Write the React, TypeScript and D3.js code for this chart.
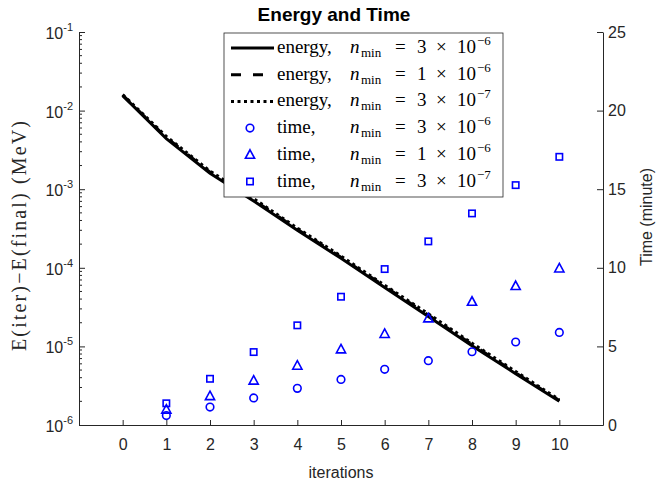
import React, { useRef, useEffect } from 'react'
import * as d3 from 'd3'

// iterations shown on the x axis
const iterations = [0, 1, 2, 3, 4, 5, 6, 7, 8, 9, 10]
// energy difference (MeV), one series per n_min
const energyA = [0.0155, 4.4e-3, 1.6e-3, 7.1e-4, 3.0e-4, 1.32e-4, 5.6e-5, 2.4e-5, 1.02e-5, 4.5e-6, 2.0e-6]
const energyB = [0.0157, 4.55e-3, 1.65e-3, 7.3e-4, 3.1e-4, 1.36e-4, 5.8e-5, 2.5e-5, 1.06e-5, 4.6e-6, 2.05e-6]
const energyC = [0.016, 4.7e-3, 1.7e-3, 7.6e-4, 3.2e-4, 1.41e-4, 6.0e-5, 2.6e-5, 1.1e-5, 4.8e-6, 2.1e-6]
// elapsed time (minute)
const timeIters = [1, 2, 3, 4, 5, 6, 7, 8, 9, 10]
const timeA = [0.6, 1.14, 1.72, 2.33, 2.9, 3.54, 4.09, 4.66, 5.28, 5.89]
const timeB = [0.98, 1.84, 2.82, 3.77, 4.81, 5.79, 6.78, 7.84, 8.84, 9.96]
const timeC = [1.38, 2.94, 4.64, 6.34, 8.16, 9.92, 11.68, 13.46, 15.26, 17.06]

const nminCoefs = ['3', '1', '3']
const nminExps = ['\u22126', '\u22126', '\u22127']
const decadeExps = [-6, -5, -4, -3, -2, -1]
const timeTicks = [0, 5, 10, 15, 20, 25]

export default function App() {
    const chart = useRef<SVGSVGElement>(null)

    useEffect(() => {
        document.body.style.margin = '0'
        const svg = d3.select(chart.current)
        svg.selectAll('*').remove()

        const axisColor = '#262626'
        const blue = '#0000ff'
        const sans = "'Liberation Sans', Arial, sans-serif"
        const serif = "'Liberation Serif', 'Times New Roman', serif"

        const x = d3.scaleLinear().domain([-1, 11]).range([79, 603])
        const yL = d3.scaleLog().domain([1e-6, 1e-1]).range([425, 32])
        const yR = d3.scaleLinear().domain([0, 25]).range([425, 32])

        // x axis
        const gx = svg.append('g')
            .attr('transform', 'translate(0,425)')
            .call(d3.axisBottom(x).tickValues(iterations).tickFormat(d3.format('d')).tickSizeInner(-5).tickSizeOuter(0).tickPadding(14))
        gx.select('.domain').attr('stroke', axisColor)
        gx.selectAll('line').attr('stroke', axisColor)
        gx.selectAll('text').attr('font-family', sans).attr('font-size', 16).attr('fill', axisColor)

        // left log axis
        const minors: number[] = []
        decadeExps.slice(0, 5).forEach((e) => {
            for (let k = 2; k <= 9; k++) minors.push(k * Math.pow(10, e))
        })
        const gl = svg.append('g')
            .attr('transform', 'translate(79,0)')
            .call(d3.axisLeft(yL).tickValues(decadeExps.map((e) => Math.pow(10, e))).tickFormat(() => '').tickSizeInner(-6).tickSizeOuter(0))
        gl.select('.domain').attr('stroke', axisColor)
        gl.selectAll('line').attr('stroke', axisColor)
        gl.selectAll('.minor')
            .data(minors)
            .join('line')
            .attr('x1', 0)
            .attr('x2', 3)
            .attr('y1', (d) => yL(d))
            .attr('y2', (d) => yL(d))
            .attr('stroke', axisColor)
        const lbl = gl.selectAll('.lbl')
            .data(decadeExps)
            .join('text')
            .attr('x', -6)
            .attr('y', (d) => yL(Math.pow(10, d)) + 7)
            .attr('text-anchor', 'end')
            .attr('font-family', sans)
            .attr('font-size', 16)
            .attr('fill', axisColor)
        lbl.append('tspan').text('10')
        lbl.append('tspan').attr('font-size', 11).attr('dy', -8).text((d) => '-' + Math.abs(d))

        // right linear axis
        const gr = svg.append('g')
            .attr('transform', 'translate(603,0)')
            .call(d3.axisRight(yR).tickValues(timeTicks).tickSizeInner(-6).tickSizeOuter(0).tickPadding(5))
        gr.select('.domain').attr('stroke', axisColor)
        gr.selectAll('line').attr('stroke', axisColor)
        gr.selectAll('text').attr('font-family', sans).attr('font-size', 16).attr('fill', axisColor)

        // energy lines
        const line = d3.line<number>().x((d, i) => x(iterations[i])).y((d) => yL(d))
        const styles = [null, '10,12', '3,3.5']
        ;[energyA, energyB, energyC].forEach((s, i) => {
            svg.append('path')
                .attr('d', line(s))
                .attr('fill', 'none')
                .attr('stroke', '#000')
                .attr('stroke-width', 3)
                .attr('stroke-dasharray', styles[i])
        })

        // markers
        function marker(g: any, shape: string, cx: number, cy: number) {
            if (shape === 'circle') {
                g.append('circle').attr('cx', cx).attr('cy', cy).attr('r', 3.8)
                    .attr('fill', 'none').attr('stroke', blue).attr('stroke-width', 1.6)
            } else if (shape === 'triangle') {
                g.append('path').attr('d', `M${cx},${cy - 5}L${cx + 4.6},${cy + 3.5}L${cx - 4.6},${cy + 3.5}Z`)
                    .attr('fill', 'none').attr('stroke', blue).attr('stroke-width', 1.6)
            } else {
                g.append('rect').attr('x', cx - 3.2).attr('y', cy - 3.2).attr('width', 6.4).attr('height', 6.4)
                    .attr('fill', 'none').attr('stroke', blue).attr('stroke-width', 1.6)
            }
        }
        const shapes = ['circle', 'triangle', 'square']
        const gm = svg.append('g')
        ;[timeA, timeB, timeC].forEach((s, i) => {
            s.forEach((v, j) => marker(gm, shapes[i], x(timeIters[j]), yR(v)))
        })

        // titles
        svg.append('text').attr('x', 334).attr('y', 21).attr('text-anchor', 'middle')
            .attr('font-family', sans).attr('font-size', 19).attr('font-weight', 'bold').text('Energy and Time')
        svg.append('text').attr('x', 341).attr('y', 478).attr('text-anchor', 'middle')
            .attr('font-family', sans).attr('font-size', 16).attr('fill', axisColor).text('iterations')
        svg.append('text').attr('transform', 'translate(652,217) rotate(-90)').attr('text-anchor', 'middle')
            .attr('font-family', sans).attr('font-size', 16).attr('fill', axisColor).text('Time (minute)')
        svg.append('text').attr('transform', 'translate(26,236) rotate(-90)').attr('text-anchor', 'middle')
            .attr('font-family', serif).attr('font-size', 20).attr('fill', axisColor)
            .attr('textLength', 230).attr('lengthAdjust', 'spacing').text('E(iter)\u2212E(final) (MeV)')

        // legend
        const lg = svg.append('g')
        lg.append('rect').attr('x', 224).attr('y', 33).attr('width', 279).attr('height', 164)
            .attr('fill', '#fff').attr('stroke', axisColor).attr('stroke-width', 0.8)
        for (let i = 0; i < 6; i++) {
            const cy = 48 + 26.7 * i
            const by = cy + 5
            const k = i % 3
            if (i < 3) {
                lg.append('line').attr('x1', 231).attr('x2', 274).attr('y1', cy).attr('y2', cy)
                    .attr('stroke', '#000').attr('stroke-width', 3).attr('stroke-dasharray', styles[k])
            } else {
                marker(lg, shapes[k], 250, cy)
            }
            const t = lg.append('text').attr('font-family', serif).attr('font-size', 19).attr('fill', '#000')
            t.append('tspan').attr('x', 277).attr('y', by).text(i < 3 ? 'energy,' : 'time,')
            t.append('tspan').attr('x', 350).attr('y', by).attr('font-style', 'italic').text('n')
            t.append('tspan').attr('x', 361).attr('y', by + 4).attr('font-size', 13).text('min')
            t.append('tspan').attr('x', 395).attr('y', by).text('=')
            t.append('tspan').attr('x', 417).attr('y', by).text(nminCoefs[k])
            t.append('tspan').attr('x', 436).attr('y', by).text('\u00d7')
            t.append('tspan').attr('x', 457).attr('y', by).text('10')
            t.append('tspan').attr('x', 477).attr('y', by - 8).attr('font-size', 13).text(nminExps[k])
        }
    }, [])

    return <svg ref={chart} width={657} height={485} style={{ display: 'block' }}></svg>
}
